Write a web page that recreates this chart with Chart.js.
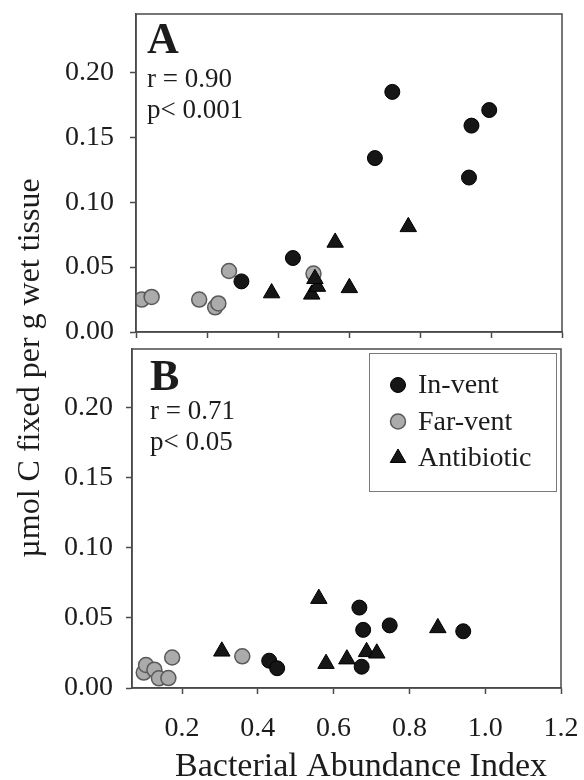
<!DOCTYPE html>
<html>
<head>
<meta charset="utf-8">
<script src="https://cdn.jsdelivr.net/npm/chart.js@4"></script>
<style>
  html, body { margin: 0; padding: 0; background: #fff; }
  #wrap { position: relative; width: 584px; height: 780px; }
  canvas { position: absolute; left: 0; top: 0; }
</style>
</head>
<body>
<div id="wrap">
  <canvas id="panelB" width="584" height="780"></canvas>
  <canvas id="panelA" width="584" height="345"></canvas>
</div>
<script>
// ---- data ----
const seriesNames = ['In-vent', 'Far-vent', 'Antibiotic'];

// Panel A
const aInVentX     = [0.722, 0.995, 0.945, 0.673, 0.938, 0.442, 0.297];
const aInVentY     = [0.185, 0.171, 0.159, 0.134, 0.119, 0.057, 0.039];
const aFarVentX    = [0.016, 0.044, 0.178, 0.223, 0.232, 0.262, 0.500];
const aFarVentY    = [0.025, 0.027, 0.025, 0.019, 0.022, 0.047, 0.045];
const aAntibioticX = [0.382, 0.561, 0.767, 0.601, 0.495, 0.511, 0.504];
const aAntibioticY = [0.030, 0.069, 0.081, 0.034, 0.029, 0.035, 0.041];

// Panel B
const bInVentX     = [0.430, 0.451, 0.674, 0.668, 0.678, 0.748, 0.942];
const bInVentY     = [0.0195, 0.0141, 0.0152, 0.0574, 0.0415, 0.0447, 0.0405];
const bFarVentX    = [0.099, 0.105, 0.127, 0.139, 0.164, 0.174, 0.359];
const bFarVentY    = [0.011, 0.0164, 0.0131, 0.0069, 0.0071, 0.0218, 0.0226];
const bAntibioticX = [0.305, 0.561, 0.580, 0.635, 0.687, 0.714, 0.875];
const bAntibioticY = [0.0262, 0.0638, 0.0174, 0.0206, 0.0258, 0.0248, 0.0429];

// axis ticks
const yTicks  = [0, 0.05, 0.10, 0.15, 0.20];
const xTicksA = [0, 0.2, 0.4, 0.6, 0.8, 1.0, 1.2];
const xTicksB = [0.2, 0.4, 0.6, 0.8, 1.0, 1.2];

// annotations
const statsA = ['r = 0.90', 'p< 0.001'];
const statsB = ['r = 0.71', 'p< 0.05'];
const yTitle = '\u00B5mol C fixed per g wet tissue';
const xTitle = 'Bacterial Abundance Index';

// ---- styles ----
const SERIF = '"Liberation Serif", "Times New Roman", serif';
const INK = '#1c1c1c';
const FRAME = '#4a4a4a';
const styles = [
  { pointStyle: 'circle',   radius: 7.5, backgroundColor: '#161616', borderColor: '#000',    borderWidth: 1,   order: 2 },
  { pointStyle: 'circle',   radius: 7.5, backgroundColor: '#ababab', borderColor: '#5a5a5a', borderWidth: 1.5, order: 3 },
  { pointStyle: 'triangle', radius: 9.5, backgroundColor: '#161616', borderColor: '#000',    borderWidth: 1,   order: 1 }
];

function pts(xs, ys) { return xs.map((x, i) => ({ x: x, y: ys[i] })); }

function makeDatasets(groups) {
  return groups.map((g, i) => Object.assign({
    label: seriesNames[i],
    data: pts(g[0], g[1]),
    pointHoverRadius: styles[i].radius,
    showLine: false
  }, styles[i], { pointRadius: styles[i].radius, pointBackgroundColor: styles[i].backgroundColor,
                  pointBorderColor: styles[i].borderColor, pointBorderWidth: styles[i].borderWidth }));
}

// frame around the plotting area
const framePlugin = {
  id: 'frame',
  afterDatasetsDraw(chart) {
    const a = chart.chartArea, ctx = chart.ctx;
    ctx.save();
    ctx.strokeStyle = FRAME;
    ctx.lineWidth = 1.5;
    ctx.strokeRect(a.left, a.top, a.right - a.left, a.bottom - a.top);
    ctx.restore();
  }
};

// panel letter and correlation statistics
const panelTextPlugin = {
  id: 'panelText',
  afterDraw(chart, args, opts) {
    const a = chart.chartArea, ctx = chart.ctx;
    ctx.save();
    ctx.fillStyle = INK;
    ctx.textAlign = 'left';
    ctx.textBaseline = 'alphabetic';
    ctx.font = 'bold 44px ' + SERIF;
    ctx.fillText(opts.letter, a.left + opts.dx, a.top + opts.letterBase);
    ctx.font = '27px ' + SERIF;
    ctx.textBaseline = 'middle';
    opts.lines.forEach((t, i) => ctx.fillText(t, a.left + opts.dx, a.top + opts.lineTop + i * 31));
    ctx.restore();
  }
};

function drawMarker(ctx, style, x, y, r) {
  ctx.beginPath();
  if (style.pointStyle === 'triangle') {
    for (let k = 0; k < 3; k++) {
      const ang = k * 2 * Math.PI / 3;
      const px = x + Math.sin(ang) * r, py = y - Math.cos(ang) * r;
      k ? ctx.lineTo(px, py) : ctx.moveTo(px, py);
    }
    ctx.closePath();
  } else {
    ctx.arc(x, y, r, 0, 2 * Math.PI);
  }
  ctx.fillStyle = style.backgroundColor;
  ctx.fill();
  ctx.lineWidth = style.borderWidth;
  ctx.strokeStyle = style.borderColor;
  ctx.stroke();
}

// boxed legend in the upper right of panel B
const boxLegendPlugin = {
  id: 'boxLegend',
  afterDraw(chart) {
    const a = chart.chartArea, ctx = chart.ctx;
    const left = a.right - 192, top = a.top + 4, w = 187, h = 138;
    ctx.save();
    ctx.strokeStyle = '#7a7a7a';
    ctx.lineWidth = 1;
    ctx.strokeRect(left + 0.5, top + 0.5, w, h);
    ctx.font = '28px ' + SERIF;
    ctx.textBaseline = 'middle';
    ctx.textAlign = 'left';
    chart.data.datasets.forEach((ds, i) => {
      const cy = top + 32 + i * 36.5;
      drawMarker(ctx, styles[i], left + 29, cy, styles[i].pointStyle === 'triangle' ? 9 : 7.5);
      ctx.fillStyle = INK;
      ctx.fillText(ds.label, left + 49, cy + 1);
    });
    ctx.restore();
  }
};

// shared axis titles (span both panels)
const titlesPlugin = {
  id: 'sharedTitles',
  afterDraw(chart) {
    const ctx = chart.ctx;
    ctx.save();
    ctx.fillStyle = INK;
    ctx.font = '32px ' + SERIF;
    ctx.textAlign = 'center';
    ctx.textBaseline = 'middle';
    ctx.translate(31, 368);
    ctx.rotate(-Math.PI / 2);
    ctx.fillText(yTitle, 0, 0);
    ctx.restore();
    ctx.save();
    ctx.fillStyle = INK;
    ctx.font = '34px ' + SERIF;
    ctx.textAlign = 'center';
    ctx.textBaseline = 'alphabetic';
    ctx.fillText(xTitle, 361, 776);
    ctx.restore();
  }
};

function axisBase() {
  return {
    type: 'linear',
    grid: { display: true, drawOnChartArea: false, drawTicks: true, tickLength: 6, tickColor: FRAME, tickWidth: 1.5 },
    border: { display: true, color: FRAME, width: 1.5 }
  };
}

function makeChart(id, cfg) {
  const yAxis = Object.assign(axisBase(), {
    min: 0, max: cfg.yMax,
    afterBuildTicks: s => { s.ticks = yTicks.map(v => ({ value: v })); },
    afterFit: s => { s.width = cfg.yWidth; s.paddingTop = 0; s.paddingBottom = 0; },
    ticks: { color: INK, font: { family: SERIF, size: 28 }, padding: cfg.yPad,
             callback: v => Number(v).toFixed(2) }
  });
  const xAxis = Object.assign(axisBase(), {
    min: cfg.xMin, max: 1.2,
    afterBuildTicks: s => { s.ticks = cfg.xTicks.map(v => ({ value: v })); },
    afterFit: s => { s.height = cfg.xHeight; s.paddingLeft = 0; s.paddingRight = 0; },
    ticks: { display: cfg.xLabels, color: INK, font: { family: SERIF, size: 28 }, padding: 18,
             maxRotation: 0, autoSkip: false, callback: v => Number(v).toFixed(1) }
  });
  return new Chart(document.getElementById(id), {
    type: 'scatter',
    data: { datasets: makeDatasets(cfg.groups) },
    options: {
      responsive: false,
      animation: false,
      devicePixelRatio: 1,
      layout: { padding: cfg.padding },
      scales: { x: xAxis, y: yAxis },
      plugins: {
        legend: { display: false },
        tooltip: { enabled: false },
        panelText: cfg.text
      }
    },
    plugins: cfg.plugins
  });
}

makeChart('panelA', {
  groups: [[aInVentX, aInVentY], [aFarVentX, aFarVentY], [aAntibioticX, aAntibioticY]],
  yMax: 0.245, xMin: 0, xTicks: xTicksA, xLabels: false,
  yWidth: 136, yPad: 16, xHeight: 13,
  padding: { top: 14, right: 22, left: 0, bottom: 0 },
  text: { letter: 'A', lines: statsA, dx: 11, letterBase: 39, lineTop: 66 },
  plugins: [framePlugin, panelTextPlugin]
});

makeChart('panelB', {
  groups: [[bInVentX, bInVentY], [bFarVentX, bFarVentY], [bAntibioticX, bAntibioticY]],
  yMax: 0.242, xMin: 0.068, xTicks: xTicksB, xLabels: true,
  yWidth: 132, yPad: 13, xHeight: 92,
  padding: { top: 349, right: 23, left: 0, bottom: 0 },
  text: { letter: 'B', lines: statsB, dx: 18, letterBase: 41, lineTop: 63 },
  plugins: [framePlugin, panelTextPlugin, boxLegendPlugin, titlesPlugin]
});
</script>
</body>
</html>
